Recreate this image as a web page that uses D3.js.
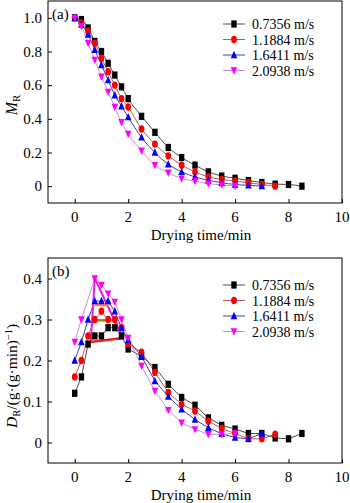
<!DOCTYPE html>
<html>
<head>
<meta charset="utf-8">
<script src="https://cdn.jsdelivr.net/npm/d3@7"></script>
<style>
  body { margin: 0; background: #fff; }
  text { font-family: "Liberation Serif", "Times New Roman", serif; }
</style>
</head>
<body>
<div id="chart"></div>
<script>
// shared time axis (min)
const times = [0, 0.25, 0.5, 0.75, 1, 1.25, 1.5, 1.75, 2, 2.5, 3, 3.5, 4, 4.5, 5, 5.5, 6, 6.5, 7, 7.5, 8, 8.5];
const seriesNames = ['0.7356 m/s', '1.1884 m/s', '1.6411 m/s', '2.0938 m/s'];
const xTicks = [0, 2, 4, 6, 8, 10];

// (a) moisture ratio
const mrBlack = [1.0, 0.99, 0.94, 0.86, 0.80, 0.73, 0.66, 0.59, 0.52, 0.415, 0.32, 0.23, 0.17, 0.125, 0.085, 0.06, 0.047, 0.033, 0.022, 0.012, 0.01, 0.0];
const mrRed = [1.0, 0.97, 0.92, 0.85, 0.76, 0.68, 0.60, 0.52, 0.47, 0.34, 0.25, 0.18, 0.125, 0.085, 0.055, 0.04, 0.03, 0.02, 0.01, 0.0];
const mrBlue = [1.0, 0.96, 0.90, 0.81, 0.72, 0.63, 0.54, 0.475, 0.41, 0.29, 0.20, 0.13, 0.085, 0.055, 0.035, 0.02, 0.01, 0.005, 0.0];
const mrMagenta = [1.0, 0.95, 0.85, 0.75, 0.65, 0.56, 0.47, 0.38, 0.31, 0.21, 0.125, 0.08, 0.045, 0.03, 0.015, 0.008, 0.0];
const mrTicks = [0, 0.2, 0.4, 0.6, 0.8, 1.0];

// (b) drying rate
const drBlack = [0.12, 0.16, 0.24, 0.26, 0.26, 0.28, 0.28, 0.26, 0.228, 0.21, 0.183, 0.142, 0.11, 0.091, 0.06, 0.042, 0.033, 0.022, 0.022, 0.011, 0.009, 0.022];
const drRed = [0.16, 0.20, 0.26, 0.30, 0.32, 0.30, 0.30, 0.28, 0.24, 0.22, 0.171, 0.122, 0.093, 0.077, 0.052, 0.034, 0.022, 0.009, 0.009, 0.02];
const drBlue = [0.20, 0.245, 0.30, 0.345, 0.345, 0.345, 0.32, 0.28, 0.25, 0.21, 0.15, 0.112, 0.081, 0.056, 0.036, 0.021, 0.012, 0.009, 0.022];
const drMagenta = [0.245, 0.30, null, 0.40, 0.384, 0.363, 0.343, 0.30, 0.255, 0.187, 0.126, 0.079, 0.048, 0.032, 0.02, 0.02, 0.022];
const drTicks = [0, 0.1, 0.2, 0.3, 0.4];

// constant-rate marks drawn over panel (b)
const triangleMark = [[0.6, 0.245], [0.75, 0.40], [1.8, 0.255]];
const baseMark = [[0.6, 0.245], [1.8, 0.255]];
const oliveMark = [[0.68, 0.298], [1.55, 0.298]];
const orangeMark = [[0.75, 0.335], [1.3, 0.335]];

const width = 350;
const height = 503;

const styles = [
  { line: '#3a3a3a', fill: '#000000', shape: 'square' },
  { line: '#b04848', fill: '#ff0000', shape: 'circle' },
  { line: '#2a2aa0', fill: '#0000ff', shape: 'up' },
  { line: '#c47ae0', fill: '#ff00ff', shape: 'down' }
];

function markerPath(shape) {
  if (shape === 'square') return 'M-2.7,-3.6H2.7V3.6H-2.7Z';
  if (shape === 'circle') return 'M0,-3.7A2.9,3.7 0 1,1 0,3.7A2.9,3.7 0 1,1 0,-3.7Z';
  if (shape === 'up') return 'M0,-4.2L3.3,3.2L-3.3,3.2Z';
  return 'M0,4.2L3.3,-3.2L-3.3,-3.2Z';
}

const svg = d3.select('#chart')
  .append('svg')
  .attr('width', width)
  .attr('height', height);

function drawPanel(p) {
  const x = d3.scaleLinear().domain([-1, 10]).range([p.left, p.right]);
  const y = d3.scaleLinear().domain(p.yDomain).range([p.bottom, p.top]);
  const g = svg.append('g');

  // inward ticks
  g.append('g')
    .attr('transform', `translate(0,${p.bottom})`)
    .call(d3.axisBottom(x).tickValues(xTicks).tickSize(-4).tickFormat(''))
    .call(a => a.select('.domain').remove());
  g.append('g')
    .attr('transform', `translate(${p.left},0)`)
    .call(d3.axisLeft(y).tickValues(p.yTicks).tickSize(-4).tickFormat(''))
    .call(a => a.select('.domain').remove());

  g.selectAll('.xlab')
    .data(xTicks)
    .enter()
    .append('text')
    .attr('x', d => x(d))
    .attr('y', p.bottom + 19)
    .attr('text-anchor', 'middle')
    .style('font-size', '15px')
    .text(d => d);

  g.selectAll('.ylab')
    .data(p.yTicks)
    .enter()
    .append('text')
    .attr('x', p.left - 6)
    .attr('y', d => y(d) + 5)
    .attr('text-anchor', 'end')
    .style('font-size', '15px')
    .text(d => d === 0 ? '0' : d3.format('.1f')(d));

  const line = d3.line()
    .x(d => x(d[0]))
    .y(d => y(d[1]))
    .curve(p.curve);

  p.series.forEach((vals, i) => {
    const pts = vals.map((v, k) => [times[k], v]).filter(d => d[1] !== null);
    g.append('path')
      .attr('d', line(pts))
      .attr('fill', 'none')
      .attr('stroke', styles[i].line)
      .attr('stroke-width', 0.9);
  });

  if (p.marks) {
    const straight = d3.line().x(d => x(d[0])).y(d => y(d[1]));
    p.marks.forEach(m => {
      g.append('path')
        .attr('d', straight(m.pts))
        .attr('fill', 'none')
        .attr('stroke', m.color)
        .attr('stroke-width', m.w);
    });
  }

  p.series.forEach((vals, i) => {
    const pts = vals.map((v, k) => [times[k], v]).filter(d => d[1] !== null);
    g.selectAll('.m' + i)
      .data(pts)
      .enter()
      .append('path')
      .attr('transform', d => `translate(${x(d[0])},${y(d[1])})`)
      .attr('d', markerPath(styles[i].shape))
      .attr('fill', styles[i].fill);
  });

  // frame
  g.append('rect')
    .attr('x', p.left)
    .attr('y', p.top)
    .attr('width', p.right - p.left)
    .attr('height', p.bottom - p.top)
    .attr('fill', 'none')
    .attr('stroke', '#000')
    .attr('stroke-width', 1);

  g.append('text')
    .attr('x', p.left + 4)
    .attr('y', p.top + 18)
    .style('font-size', '15px')
    .text(p.label);

  g.append('text')
    .attr('x', 201)
    .attr('y', p.bottom + 37)
    .attr('text-anchor', 'middle')
    .style('font-size', '15px')
    .text('Drying time/min');

  // legend
  seriesNames.forEach((name, i) => {
    const ly = p.legendTop + i * 15.5;
    g.append('line')
      .attr('x1', 223).attr('x2', 245)
      .attr('y1', ly).attr('y2', ly)
      .attr('stroke', styles[i].line)
      .attr('stroke-width', 0.9);
    g.append('path')
      .attr('transform', `translate(234,${ly})`)
      .attr('d', markerPath(styles[i].shape))
      .attr('fill', styles[i].fill);
    g.append('text')
      .attr('x', 252)
      .attr('y', ly + 5)
      .style('font-size', '14px')
      .text(name);
  });
}

drawPanel({
  left: 48, right: 342, top: 1, bottom: 203,
  yDomain: [-0.1, 1.1], yTicks: mrTicks,
  series: [mrBlack, mrRed, mrBlue, mrMagenta],
  curve: d3.curveMonotoneX,
  label: '(a)', legendTop: 24
});

drawPanel({
  left: 48, right: 342, top: 258, bottom: 463,
  yDomain: [-0.05, 0.45], yTicks: drTicks,
  series: [drBlack, drRed, drBlue, drMagenta],
  curve: d3.curveLinear,
  label: '(b)', legendTop: 285,
  marks: [
    { pts: triangleMark, color: '#e61ee6', w: 2 },
    { pts: baseMark, color: '#e62020', w: 2.5 },
    { pts: oliveMark, color: '#8a8a1e', w: 2.5 },
    { pts: orangeMark, color: '#ff8a3c', w: 2.5 }
  ]
});

// y axis titles
const yt1 = svg.append('text')
  .attr('transform', 'translate(17,105) rotate(-90)')
  .attr('text-anchor', 'middle')
  .style('font-size', '16px');
yt1.append('tspan').style('font-style', 'italic').text('M');
yt1.append('tspan').attr('dy', 3).style('font-size', '11px').text('R');

const yt2 = svg.append('text')
  .attr('transform', 'translate(17,428) rotate(-90)')
  .attr('text-anchor', 'start')
  .style('font-size', '15.5px');
yt2.append('tspan').style('font-style', 'italic').text('D');
yt2.append('tspan').attr('dy', 3).style('font-size', '10.5px').text('R');
yt2.append('tspan').attr('dy', -3).text('/(g·(g·min)');
yt2.append('tspan').attr('dy', -5).style('font-size', '10.5px').text('−1');
yt2.append('tspan').attr('dy', 5).text(')');
</script>
</body>
</html>
